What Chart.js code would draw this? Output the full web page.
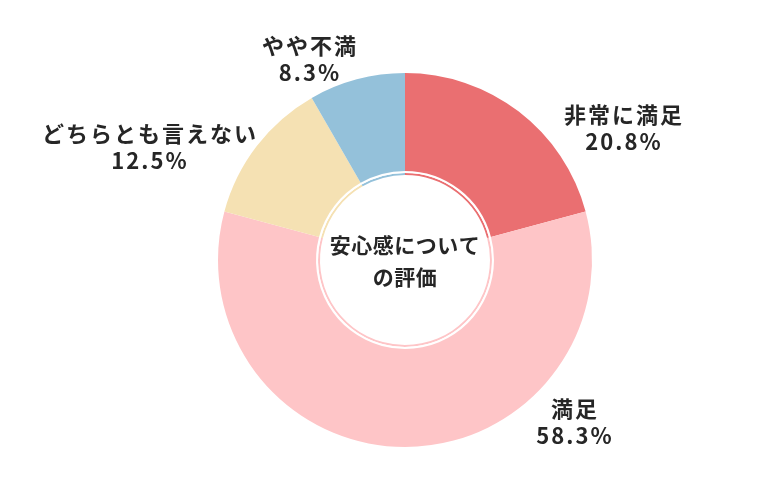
<!DOCTYPE html>
<html lang="ja">
<head>
<meta charset="utf-8">
<script src="https://cdn.jsdelivr.net/npm/chart.js@4/dist/chart.umd.min.js"></script>
<style>
    html, body { margin: 0; padding: 0; background: #fff; }
    #wrap { width: 780px; height: 500px; }
</style>
</head>
<body>
<div id="wrap"><canvas id="satisfactionChart" width="780" height="500"></canvas></div>
<script>
const categories = ['非常に満足', '満足', 'どちらとも言えない', 'やや不満'];
const percentages = [20.8, 58.3, 12.5, 8.3];
const centerTitle = ['安心感について', 'の評価'];

const sliceColors = ['#ea6f71', '#fec5c7', '#f5e1b3', '#94c1da'];
// label block offsets from the doughnut centre (layout only)
const labelOffsets = [[218, -132], [169, 162], [-256, -113], [-96, -201]];

document.addEventListener('DOMContentLoaded', function() {
    const ctx = document.getElementById('satisfactionChart').getContext('2d');
    const font = '"Noto Sans CJK JP", "Noto Sans", sans-serif';

    const labelPlugin = {
        id: 'sliceLabels',
        afterDraw(chart) {
            const meta = chart.getDatasetMeta(0);
            if (!meta.data.length) return;
            const arc = meta.data[0];
            const cx = arc.x, cy = arc.y;
            const c = chart.ctx;
            c.save();
            c.fillStyle = '#262626';
            c.textAlign = 'center';
            c.textBaseline = 'middle';

            // slice labels
            c.font = 'bold 22px ' + font;
            c.letterSpacing = '2px';
            categories.forEach(function(name, i) {
                const x = cx + labelOffsets[i][0];
                const y = cy + labelOffsets[i][1];
                c.fillText(name, x + 1, y - 13);
                c.fillText(percentages[i].toFixed(1) + '%', x + 1, y + 14);
            });

            // centre title
            c.letterSpacing = '0.5px';
            c.font = 'bold 21px ' + font;
            c.fillText(centerTitle[0], cx, cy - 15);
            c.fillText(centerTitle[1], cx, cy + 17);
            c.restore();
        }
    };

    new Chart(ctx, {
        type: 'doughnut',
        data: {
            labels: categories,
            datasets: [
                {
                    data: percentages,
                    backgroundColor: sliceColors,
                    borderWidth: 0,
                    weight: 98
                },
                {
                    // white gap between ring and inner circle outline
                    data: percentages,
                    backgroundColor: '#ffffff',
                    borderWidth: 0,
                    weight: 2
                },
                {
                    // thin inner outline in slice colours
                    data: percentages,
                    backgroundColor: sliceColors,
                    borderWidth: 0,
                    weight: 2
                }
            ]
        },
        options: {
            responsive: false,
            animation: false,
            cutout: 85,
            layout: {
                padding: { top: 73, bottom: 53, left: 218, right: 188 }
            },
            plugins: {
                legend: { display: false },
                tooltip: { enabled: false }
            }
        },
        plugins: [labelPlugin]
    });
});
</script>
</body>
</html>
